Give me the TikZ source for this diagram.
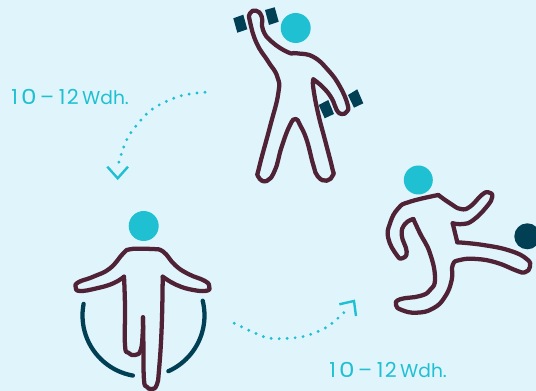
\documentclass[tikz,border=0pt]{standalone}
\usepackage{graphicx}
\usepackage{fontspec}
\setmainfont{Poppins}
\definecolor{bgc}{HTML}{E0F4FC}
\definecolor{body}{HTML}{4F2236}
\definecolor{deep}{HTML}{003F54}
\definecolor{cy}{HTML}{1FC0D2}
\tikzset{
 outline/.style={draw=body,line width=3.2pt,line join=round,line cap=round},
 rope/.style={draw=deep,line width=3.2pt,line cap=round},
 head/.style={fill=cy},
 weight/.style={fill=deep},
 dots/.style={draw=cy,line width=2.4pt,line cap=round,dash pattern=on 0pt off 6pt},
 tip/.style={draw=cy,line width=1.8pt,line cap=butt,line join=miter},
 lbl/.style={text=cy,anchor=base west,inner sep=0pt,font=\fontsize{15.5}{18}\selectfont}
}
\newcommand{\repstext}{1\kern2.5pt\scalebox{1.2}[1]{0}\kern2.5pt–\kern3.5pt1\kern1.2pt2\kern2.5pt{\fontsize{14}{18}\selectfont Wdh.}}
\begin{document}
\begin{tikzpicture}[x=0.75pt,y=-0.75pt]
\useasboundingbox (0,0) rectangle (536,391);
\clip (0,0) rectangle (536,391);
\fill[bgc] (0,0) rectangle (536,391);
% figure 1
\fill[head] (295.7,28) circle (15);
\fill[weight] (233.3,18.3)--(243.3,14.7)--(247.3,29.3)--(237.3,32.7)--cycle;
\fill[weight] (265,10)--(274.7,7.3)--(278.7,21.7)--(269,25)--cycle;
\fill[weight] (318.7,105)--(328.3,100)--(334,114)--(324.7,118.3)--cycle;
\fill[weight] (348,95)--(357.3,89.3)--(363.3,103.3)--(354,107.7)--cycle;
\draw[outline] plot[smooth,tension=0.8] coordinates {(313.3,79.3)(323,87.3)(331.7,98.3)(336.7,110)(341.7,114)(346.7,111.7)(347.7,105)(340,86.7)(328,70)(313,56.7)(296.7,53.3)(288,52.3)(271.7,41.7)(263,30)(261.7,16.7)(256,10.7)(250,13.3)(250,21.7)(256.7,43.3)(268.3,61.7)(277.3,76.7)(278.3,93.3)(270,126.7)(259.3,166.7)(258.3,176.7)(266.7,181)(275,170)(281.7,146.7)(290,125)(295.7,119)(300,125)(306.7,140)(313.3,165)(318,176.7)(326.7,180.7)(333,175)(332.3,168.3)(325,140)(318,113)(313.3,88)(313.3,79.3)};
% figure 2
\fill[head] (143.7,226) circle (15);
\draw[rope] plot[smooth,domain=191:100,samples=25] ({143.5+61*cos(\x)},{315.5+61*sin(\x)});
\draw[rope] plot[smooth,domain=-14:66,samples=25] ({143.5+61*cos(\x)},{315.5+61*sin(\x)});
\draw[outline] plot[smooth,tension=0.8] coordinates {(162.7,276.7)(176.7,285)(193.3,290)(206.7,290.7)(209.3,286.7)(205,281)(188.3,274)(175,265)(163.3,251.7)(153.3,249)(143.3,248.7)(130,249.3)(123.3,253.3)(110,268.3)(93.3,276.7)(78.3,282.3)(75.7,287.3)(80,291)(96.7,288.3)(113.3,283.3)(124,276.7)};
\draw[outline] plot[smooth,tension=0.8] coordinates {(124,276.7)(125,306.7)(125,345)(128.3,352.7)(135,355)(140.7,350)(142.7,333)(143,317.3)};
\draw[outline] plot[smooth,tension=0.8] coordinates {(143,317.3)(143.5,350)(144,380)(146.7,386.7)(151.7,389)(156.7,385)(159,370)(161.7,326.7)(162.7,276.7)};
% figure 3
\fill[head] (418.3,180) circle (14.5);
\fill[deep] (527.3,236.3) circle (13);
\draw[outline] plot[smooth,tension=0.8] coordinates {(438.3,195)(450,203.3)(460.7,209)(470,206.7)(481.7,195)(488.3,192.3)(492.3,196.7)(486.7,206.7)(473.3,220)(463.3,224)(452.7,223.3)};
\draw[outline] (452.7,223.3)--(457.3,242.3);
\draw[outline] plot[smooth,tension=0.8] coordinates {(457.3,242.3)(483.3,245)(510,250.7)(526.7,259)(530,266.7)(525,272.3)(516.7,270.7)(496.7,262.7)(476.7,259)(460,260)(452.7,265)(451.7,280)(445,296.7)(433.3,308.3)(416.7,312.7)(401.7,310)(396,305)(400,299.3)(420,296)(430,290)(435,278.3)(430,253.3)(420,233.3)(413.3,219)};
\draw[outline] plot[smooth,tension=0.8] coordinates {(413.3,219)(405,224)(401.7,235)(406.7,251.7)(402.3,258.3)(396.7,255)(388.3,238.3)(390,223.3)(398.3,208.3)(410,201.7)(438.3,195)};
% labels
\node[lbl] (rep1) at (11,104.3) {\repstext};
\node[lbl] (rep2) at (329,377.3) {\repstext};
% dotted arrows
\draw[dots] plot[smooth] coordinates {(205,92.3)(180,96)(151,110)(129.3,135)(120.3,157)(118.3,165.7)};
\draw[tip] (107.3,166.7)--(117.7,178.3)--(128,166.7);
\draw[dots] plot[smooth] coordinates {(234.3,323.3)(263.7,336.7)(280,338.7)(304.3,336.3)(327,327)(346,310.7)};
\draw[tip] (339.3,304.3)--(354,301)--(356,316);
\end{tikzpicture}
\end{document}
